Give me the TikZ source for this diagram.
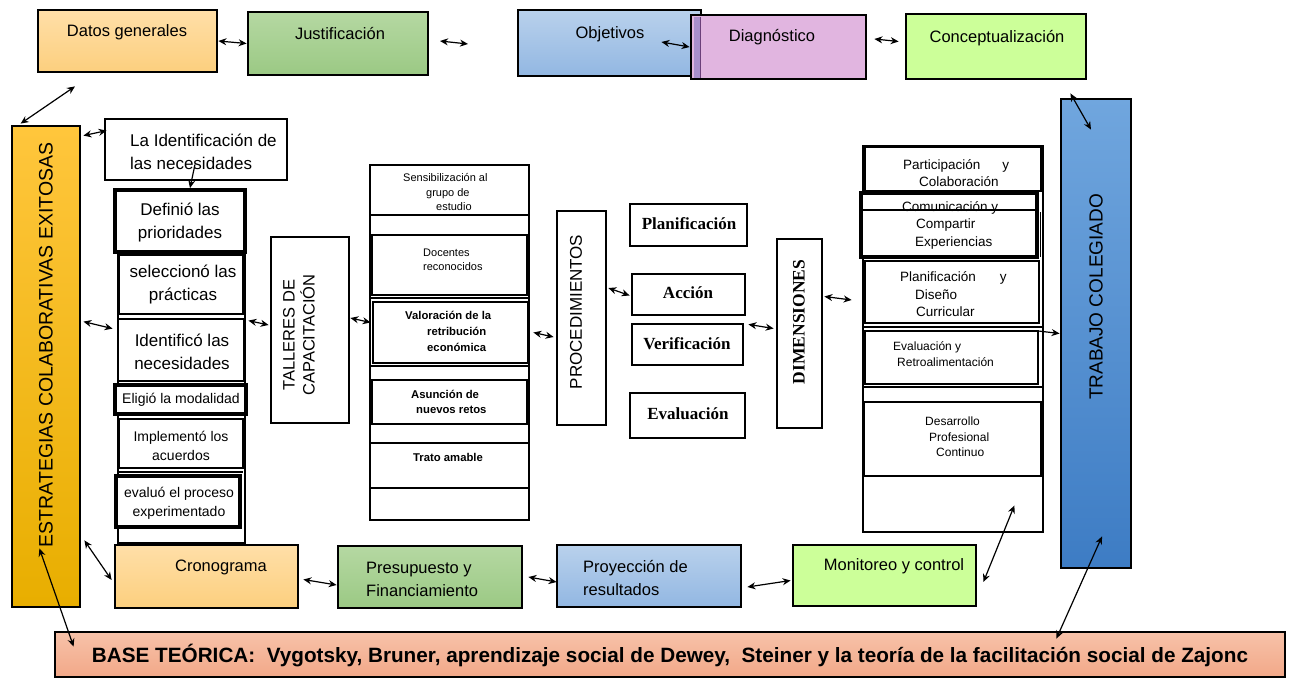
\documentclass[tikz,border=0pt]{standalone}
\usepackage{fontspec}
\setmainfont{Liberation Sans}
\newfontfamily\tnr{Liberation Serif}
\usetikzlibrary{arrows.meta,fit}
\newcommand\myfs[2]{\fontsize{#1}{#2}\selectfont}
\definecolor{orT}{HTML}{FFDFA8}
\definecolor{orB}{HTML}{FCCF7E}
\definecolor{grT}{HTML}{B5D8A2}
\definecolor{grB}{HTML}{9BC984}
\definecolor{blT}{HTML}{B9D1EC}
\definecolor{blB}{HTML}{92B7E2}
\definecolor{pinkc}{HTML}{E1B5E0}
\definecolor{limec}{HTML}{CCFF99}
\definecolor{trT}{HTML}{70A6DE}
\definecolor{trB}{HTML}{3D7CC4}
\definecolor{esT}{HTML}{FFC63C}
\definecolor{esB}{HTML}{E8AE00}
\definecolor{bsT}{HTML}{F7C2A9}
\definecolor{bsB}{HTML}{F2A888}
\definecolor{stripc}{HTML}{A98FCC}
\definecolor{dkpurp}{HTML}{6B3F7A}
\begin{document}
\begin{tikzpicture}[x=1pt,y=-1pt,
  box/.style={draw=black, line width=2.8pt, inner sep=0pt},
  thickbox/.style={draw=black, line width=3.8pt, inner sep=0pt, fill=white},
  wbox/.style={box, fill=white},
  inbox/.style={draw=black, line width=1.8pt, inner sep=0pt, fill=white},
  orshade/.style={top color=orT, bottom color=orB},
  grshade/.style={top color=grT, bottom color=grB},
  blshade/.style={top color=blT, bottom color=blB},
  sep/.style={line width=1.6pt},
  arr/.style={line width=1.2pt, {Stealth[length=8pt,width=7pt]}-{Stealth[length=8pt,width=7pt]}},
  arrone/.style={line width=1.2pt, -{Stealth[length=8pt,width=7pt]}},
  lbl/.style={inner sep=0pt, font=\myfs{16.5}{20}},
  lbll/.style={inner sep=0pt, font=\myfs{16.5}{23}, align=left, anchor=west},
  stk/.style={inner sep=0pt, font=\myfs{17}{23}, align=center},
  stks/.style={inner sep=0pt, font=\myfs{14}{19}, align=center},
  midt/.style={inner sep=0pt, font=\myfs{11}{14.5}, align=left, anchor=west},
  midb/.style={inner sep=0pt, font=\myfs{11.3}{16}\bfseries, align=left, anchor=west},
  rct/.style={inner sep=0pt, font=\myfs{13.5}{17.5}, align=left, anchor=west},
  rcs/.style={inner sep=0pt, font=\myfs{12}{15.5}, align=left, anchor=west},
  serb/.style={inner sep=0pt, font=\tnr\bfseries\myfs{17}{20}},
  vert/.style={inner sep=0pt, rotate=90}
]
\useasboundingbox (0,0) rectangle (1293,678);

% ---------- top row ----------
\node[box, orshade, fit={(38,10)(217,72)}] (datos) {};
\node[lbl] (datost) at (127,32) {Datos generales};
\node[box, grshade, fit={(248,12)(428,75)}] (just) {};
\node[lbl] (justt) at (340,34) {Justificación};
\node[box, blshade, fit={(518,10)(701,76)}] (obj) {};
\node[lbl] (objt) at (610,34) {Objetivos};
\node[box, fill=pinkc, fit={(691,15)(866,79)}] (diag) {};
\fill[stripc] (693.5,16.5) rectangle (700,77.5);
\draw[line width=1.5pt, draw=dkpurp] (700.5,16.5) -- (700.5,77.5);
\node[lbl] (diagt) at (772,37) {Diagnóstico};
\node[box, fill=limec, fit={(906,14)(1086,79)}] (concept) {};
\node[lbl] (conceptt) at (997,38) {Conceptualización};

% ---------- side columns ----------
\node[box, top color=trT, bottom color=trB, fit={(1061,99)(1131,568)}] (trab) {};
\node[vert, font=\myfs{19}{22}] (trabt) at (1096,297) {TRABAJO COLEGIADO};
\node[box, top color=esT, bottom color=esB, fit={(12,126)(80,607)}] (estr) {};
\node[vert, font=\myfs{19.5}{22}] (estrt) at (46,345) {ESTRATEGIAS COLABORATIVAS EXITOSAS};

% ---------- left stack ----------
\node[wbox, fit={(105,119)(287,180)}] (ident) {};
\node[lbll, font=\myfs{17}{23}] (identt) at (130,151.5) {La Identificación de\\las necesidades};
\node[wbox, fit={(118,190)(245,543)}] (stack) {};
\node[thickbox, fit={(115,190)(245,252)}] (defi) {};
\node[stk] (defit) at (180,222) {Definió las\\prioridades};
\node[wbox, fit={(119,255)(243,314)}] (selec) {};
\node[stk] (select) at (183,284) {seleccionó las\\prácticas};
\node[wbox, fit={(118,319)(244,381)}] (identi) {};
\node[stk] (identit) at (182,352) {Identificó las\\necesidades};
\node[thickbox, fit={(115,385)(246,414)}] (elig) {};
\node[stks] (eligt) at (181,400) {Eligió la modalidad};
\node[wbox, fit={(119,419)(243,468)}] (impl) {};
\node[stks] (implt) at (181,446) {Implementó los\\acuerdos};
\draw[sep] (119,472) -- (243,472);
\node[thickbox, fit={(116,476)(240,527)}] (evalu) {};
\node[stks] (evalut) at (179,503) {evaluó el proceso\\experimentado};

% ---------- talleres ----------
\node[wbox, fit={(271,237)(349,423)}] (tall) {};
\node[vert, font=\myfs{16.5}{20}, align=center] (tallt) at (299,335) {TALLERES DE\\CAPACITACIÓN};

% ---------- middle column ----------
\node[wbox, fit={(370,165)(529,520)}] (mid) {};
\draw[sep] (370,215) -- (529,215);
\node[inbox, fit={(372,235)(527,295)}] (doc) {};
\draw[sep] (370,298) -- (529,298);
\node[inbox, line width=2.2pt, fit={(373,302)(528,363)}] (valo) {};
\draw[sep] (370,366) -- (529,366);
\node[inbox, fit={(372,380)(527,424)}] (asun) {};
\draw[sep] (370,443) -- (529,443);
\draw[sep] (370,488) -- (529,488);
\node[midt] (senst) at (403,192) {Sensibilización al\\\hspace*{23pt}grupo de\\\hspace*{33pt}estudio};
\node[midt] (doct) at (423,260) {Docentes\\reconocidos};
\node[midb] (valot) at (405,331) {Valoración de la\\\hspace*{22pt}retribución\\\hspace*{22pt}económica};
\node[midb, font=\myfs{11.3}{15}\bfseries] (asunt) at (411,402) {Asunción de\\\hspace*{5pt}nuevos retos};
\node[midb] (tratot) at (413,457) {Trato amable};

% ---------- procedimientos ----------
\node[wbox, fit={(557,211)(606,425)}] (proc) {};
\node[vert, font=\myfs{17}{20}] (proct) at (576,312) {PROCEDIMIENTOS};
\node[wbox, fit={(630,204)(747,246)}] (plan) {};
\node[serb] (plant) at (689,224) {Planificación};
\node[wbox, fit={(632,274)(745,315)}] (acc) {};
\node[serb] (acct) at (688,293) {Acción};
\node[wbox, fit={(632,324)(743,365)}] (verif) {};
\node[serb] (veritf) at (687,344) {Verificación};
\node[wbox, fit={(630,393)(745,438)}] (evac) {};
\node[serb] (evact) at (688,414) {Evaluación};
\node[wbox, fit={(777,239)(822,428)}] (dim) {};
\node[vert, font=\tnr\bfseries\myfs{17.5}{20}] (dimt) at (799,322) {DIMENSIONES};

% ---------- right column ----------
\node[wbox, fit={(863,146)(1043,532)}] (rc) {};
\node[wbox, fit={(865,147)(1041,191)}] (part) {};
\node[thickbox, fit={(861,193)(1037,257)}] (comm) {};
\node[rct] (partt) at (903,173) {Participación\hspace{22pt}y\\\hspace*{16pt}Colaboración};
\node[rct] (commt) at (902,225) {Comunicación y\\\hspace*{14pt}Compartir\\\hspace*{13pt}Experiencias};
\draw[line width=1.8pt] (863,210) -- (1037,210);
\draw[line width=1pt] (1040,212) -- (1040,257);
\node[inbox, line width=2pt, fit={(865,261)(1039,323)}] (planc) {};
\node[rct] (planct) at (900,294.5) {Planificación\hspace{24pt}y\\\hspace*{15pt}Diseño\\\hspace*{16pt}Curricular};
\draw[sep] (863,327) -- (1043,327);
\node[inbox, line width=2pt, fit={(865,331)(1038,384)}] (evr) {};
\node[rcs] (evrt) at (893,354) {Evaluación y\\\hspace*{4pt}Retroalimentación};
\draw[sep] (863,387) -- (1043,387);
\node[inbox, line width=2.2pt, fit={(864,402)(1041,476)}] (desa) {};
\node[rcs] (desat) at (925,437) {Desarrollo\\\hspace*{4pt}Profesional\\\hspace*{11pt}Continuo};

% ---------- bottom row ----------
\node[box, orshade, fit={(115,545)(298,608)}] (crono) {};
\node[lbl] (cronot) at (221,567) {Cronograma};
\node[box, grshade, fit={(338,546)(522,608)}] (pres) {};
\node[lbll] (prest) at (366,579) {Presupuesto y\\Financiamiento};
\node[box, blshade, fit={(557,545)(741,607)}] (proy) {};
\node[lbll] (proyt) at (583,577.5) {Proyección de\\resultados};
\node[box, fill=limec, fit={(793,545)(976,606)}] (moni) {};
\node[lbl] (monit) at (894,566) {Monitoreo y control};

\node[box, top color=bsT, bottom color=bsB, fit={(55,632)(1285,677)}] (base) {};
\node[inner sep=0pt, font=\myfs{19}{22}\bfseries] (baset) at (670,656) {\resizebox{1156pt}{!}{BASE TEÓRICA:\ \ Vygotsky, Bruner, aprendizaje social de Dewey,\ \ Steiner y la teoría de la facilitación social de Zajonc}};

% ---------- connectors ----------
\coordinate (fa) at (440,41);
\coordinate (fb) at (468,44);
\draw[arr] (datos.east) -- (just.west);
\draw[arr] (fa) -- (fb);
\draw[arr] ([shift={(-41,-1)}]obj.east) -- (diag.west);
\draw[arr] ([shift={(7,-8)}]diag.east) -- ([shift={(-6,-5)}]concept.west);
\draw[arr] ([shift={(-17,13)}]concept.south east) -- ([shift={(-5,32)}]trab.north);
\draw[arr] ([shift={(-52.5,13)}]datos.south) -- ([shift={(10,-1)}]estr.north west);
\draw[arr] ([shift={(2,11)}]estr.north east) -- ([shift={(3,13)}]ident.north west);
\draw[arrone] ([shift={(-1,-17)}]ident.south) -- ([shift={(10,0)}]defi.north);
\draw[arr] ([shift={(2,197)}]estr.north east) -- ([shift={(-4,140)}]stack.north west);
\draw[arr] ([shift={(2,132)}]stack.north east) -- ([shift={(-1,-5)}]tall.west);
\draw[arr] ([shift={(0,-12)}]tall.east) -- ([shift={(2,-20)}]mid.west);
\draw[arr] ([shift={(3,-10)}]mid.east) -- ([shift={(-2,19)}]proc.west);
\draw[arr] ([shift={(1,-30)}]proc.east) -- ([shift={(-1,1)}]acc.west);
\draw[arr] ([shift={(2,8)}]acc.south east) -- ([shift={(-2,-5)}]dim.west);
\draw[arr] ([shift={(1,-37)}]dim.east) -- ([shift={(-10,-39)}]rc.west);
\draw[arrone] ([shift={(-6,-8)}]rc.east) -- (trab.west);
\draw[arr] ([shift={(-30,-28)}]rc.south east) -- ([shift={(6,6.5)}]moni.east);
\draw[arr] ([shift={(6,-33)}]trab.south) -- ([shift={(-230,8)}]base.north east);
\draw[arr] ([shift={(-42,-60)}]estr.south east) -- ([shift={(20,16)}]base.north west);
\draw[arr] ([shift={(3,-68)}]estr.south east) -- ([shift={(-2,3.5)}]crono.west);
\draw[arr] ([shift={(4,3)}]crono.east) -- ([shift={(0,8)}]pres.west);
\draw[arr] ([shift={(5,0)}]pres.east) -- ([shift={(1,6)}]proy.west);
\draw[arr] ([shift={(5,11)}]proy.east) -- ([shift={(-1,5)}]moni.west);
\end{tikzpicture}
\end{document}
